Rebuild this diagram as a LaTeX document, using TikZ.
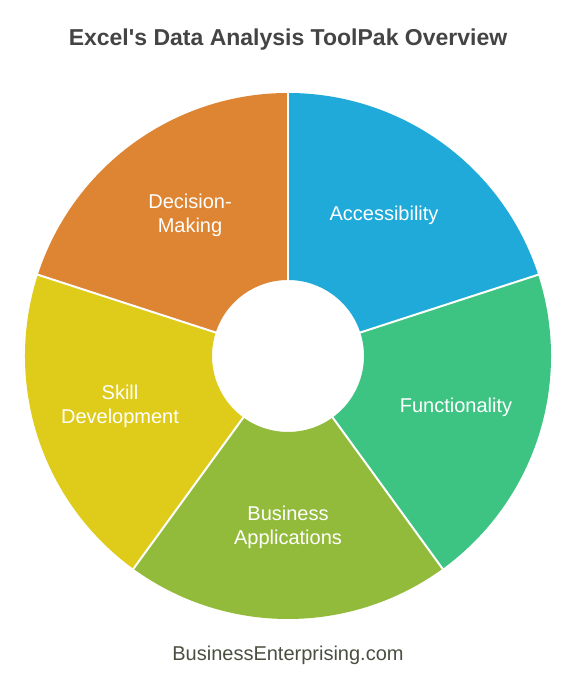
\documentclass[tikz,border=0pt]{standalone}
\usepackage{fontspec}
\setmainfont{Liberation Sans}
\definecolor{cblue}{HTML}{1FAAD9}
\definecolor{cgreen}{HTML}{3DC483}
\definecolor{colive}{HTML}{93BB3B}
\definecolor{cyellow}{HTML}{DFCB1A}
\definecolor{corange}{HTML}{DD8533}
\definecolor{ctitle}{HTML}{444444}
\definecolor{cfoot}{HTML}{4A4F40}
\begin{document}
\begin{tikzpicture}[x=1pt,y=1pt,
  seglabel/.style={text=white,font=\fontsize{20}{24}\selectfont,align=center},
  sep/.style={draw=white,line width=2pt}]
\useasboundingbox (0,0) rectangle (575,685);
\fill[white] (0,0) rectangle (575,685);
\begin{scope}[shift={(288,329)}]
\foreach \a/\b/\c in {18/90/cblue, -54/18/cgreen, -126/-54/colive, 162/234/cyellow, 90/162/corange}{
  \fill[\c] (\a:263) arc[start angle=\a,end angle=\b,radius=263] -- (\b:76) arc[start angle=\b,end angle=\a,radius=76] -- cycle;
}
\foreach \a in {90,18,-54,-126,162}{
  \draw[sep] (\a:75) -- (\a:264);
}
\end{scope}
\node[font=\bfseries\fontsize{23}{26}\selectfont,text=ctitle] (title) at (288,645) {Excel\textquotesingle s Data Analysis ToolPak Overview};
\node[seglabel] (acc) at (384,470) {Accessibility};
\node[seglabel] (fun) at (456,278) {Functionality};
\node[seglabel] (bus) at (288,158) {Business\\Applications};
\node[seglabel] (ski) at (120,279) {Skill\\Development};
\node[seglabel] (dec) at (190,470) {Decision-\\Making};
\node[font=\fontsize{20}{22}\selectfont,text=cfoot] (foot) at (288,30) {BusinessEnterprising.com};
\end{tikzpicture}
\end{document}
